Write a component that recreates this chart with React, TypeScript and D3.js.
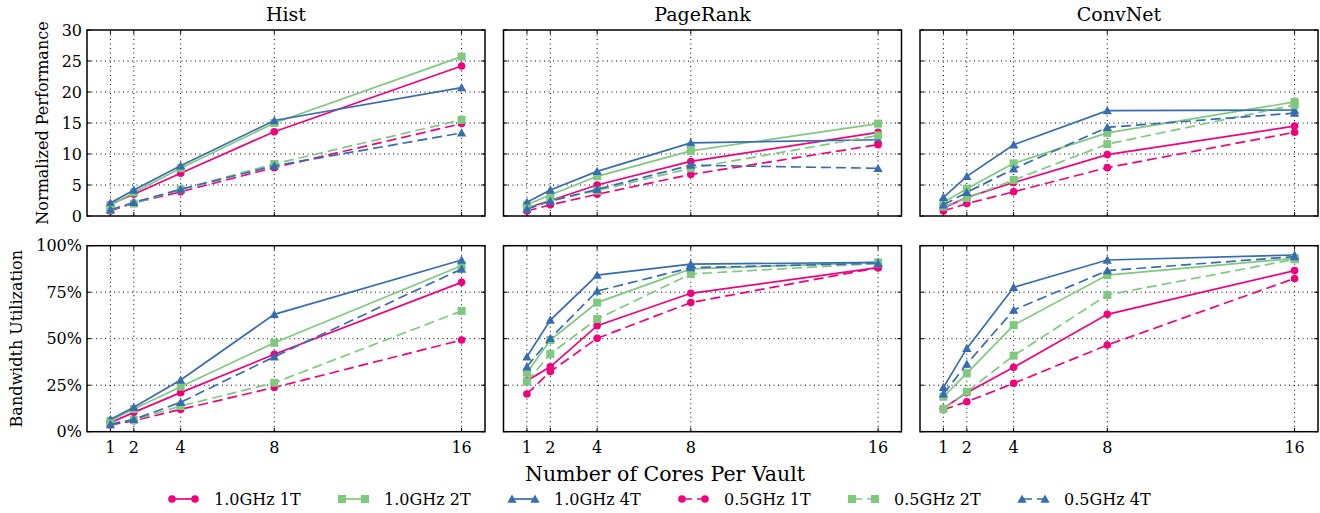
import React from "react";
import * as d3 from "d3";

const cores = [1, 2, 4, 8, 16];
const workloads = ["Hist", "PageRank", "ConvNet"];
const seriesNames = ["1.0GHz 1T", "1.0GHz 2T", "1.0GHz 4T", "0.5GHz 1T", "0.5GHz 2T", "0.5GHz 4T"];
const seriesColors = ["#f0027f", "#7fc97f", "#386cb0", "#f0027f", "#7fc97f", "#386cb0"];
const seriesMarkers = ["circle", "square", "triangle", "circle", "square", "triangle"];
const seriesDashed = [false, false, false, true, true, true];

const perfTicks = [0, 5, 10, 15, 20, 25, 30];
const bwTicks = [0, 25, 50, 75, 100];

// Normalized performance, series order as seriesNames
const histPerf = [
  [1.9, 3.5, 6.9, 13.6, 24.2],
  [1.7, 3.8, 7.7, 15.0, 25.7],
  [2.1, 4.2, 8.1, 15.4, 20.7],
  [0.8, 2.1, 3.9, 7.8, 14.9],
  [1.0, 2.0, 4.3, 8.4, 15.5],
  [1.0, 2.2, 4.3, 8.1, 13.4],
];
const pagerankPerf = [
  [1.3, 2.5, 5.0, 8.8, 13.5],
  [1.8, 3.4, 6.4, 10.5, 14.9],
  [2.2, 4.2, 7.2, 11.8, 12.3],
  [0.8, 1.8, 3.5, 6.7, 11.5],
  [1.2, 2.5, 4.1, 7.7, 13.0],
  [1.1, 2.4, 4.3, 8.2, 7.7],
];
const convnetPerf = [
  [1.3, 3.0, 5.4, 9.9, 14.5],
  [2.2, 4.4, 8.5, 13.4, 18.4],
  [3.0, 6.4, 11.5, 17.0, 17.1],
  [0.8, 2.0, 3.9, 7.8, 13.5],
  [1.5, 2.9, 5.8, 11.6, 17.9],
  [1.8, 3.8, 7.6, 14.3, 16.6],
];

// Bandwidth utilization (%)
const histBw = [
  [4.8, 10.4, 21.0, 41.6, 80.3],
  [5.9, 12.2, 24.2, 47.8, 89.2],
  [6.6, 13.1, 27.8, 63.1, 92.3],
  [3.6, 5.9, 12.0, 23.8, 49.3],
  [4.5, 6.3, 13.8, 26.3, 64.9],
  [3.9, 6.6, 15.8, 40.3, 87.5],
];
const pagerankBw = [
  [27.4, 34.9, 57.0, 74.4, 88.2],
  [31.7, 49.3, 69.4, 87.5, 91.0],
  [40.3, 60.0, 84.2, 90.1, 91.0],
  [20.3, 32.3, 50.2, 69.4, 88.2],
  [26.9, 41.8, 60.6, 84.8, 90.5],
  [34.9, 50.2, 75.6, 88.2, 90.5],
];
const convnetBw = [
  [12.6, 21.0, 34.6, 63.1, 86.6],
  [18.8, 31.4, 57.3, 84.2, 93.2],
  [23.8, 44.8, 77.6, 92.3, 95.0],
  [11.8, 16.1, 26.0, 46.6, 82.4],
  [12.2, 21.5, 40.9, 73.5, 92.7],
  [20.3, 36.4, 65.4, 86.6, 94.1],
];

const perfData = [histPerf, pagerankPerf, convnetPerf];
const bwData = [histBw, pagerankBw, convnetBw];

const FONT = "'DejaVu Serif', 'Liberation Serif', serif";
const W = 1320;
const H = 513;
const panelLefts = [87, 503.5, 920];
const panelW = 398;
const rowTops = [30, 245.7];
const panelH = 186;

function Marker({ type, x, y, color }: { type: string; x: number; y: number; color: string }) {
  if (type === "circle") return <circle cx={x} cy={y} r={3.8} fill={color} />;
  if (type === "square") return <rect x={x - 4} y={y - 4} width={8} height={8} fill={color} />;
  const s = 4.6;
  return <path d={`M${x},${y - s}L${x + s},${y + s * 0.8}L${x - s},${y + s * 0.8}Z`} fill={color} />;
}

function Panel({ col, row }: { col: number; row: number }) {
  const left = panelLefts[col];
  const top = rowTops[row];
  const x = d3.scaleLinear().domain([0, 17]).range([left, left + panelW]);
  const y = d3
    .scaleLinear()
    .domain(row === 0 ? [0, 30] : [0, 100])
    .range([top + panelH, top]);
  const ticks = row === 0 ? perfTicks : bwTicks;
  const data = row === 0 ? perfData[col] : bwData[col];
  const line = d3
    .line<number>()
    .x((_, i) => x(cores[i]))
    .y((d) => y(d));
  return (
    <g>
      {ticks.slice(1, -1).map((t) => (
        <line key={"gy" + t} x1={left} x2={left + panelW} y1={y(t)} y2={y(t)} stroke="#000" strokeWidth={1} strokeDasharray="1,3.5" />
      ))}
      {cores.map((c) => (
        <line key={"gx" + c} x1={x(c)} x2={x(c)} y1={top} y2={top + panelH} stroke="#000" strokeWidth={1} strokeDasharray="1,3.5" />
      ))}
      {ticks.map((t) => (
        <g key={"ty" + t}>
          <line x1={left} x2={left + 4} y1={y(t)} y2={y(t)} stroke="#000" />
          <line x1={left + panelW - 4} x2={left + panelW} y1={y(t)} y2={y(t)} stroke="#000" />
          {col === 0 && (
            <text x={left - 5} y={y(t)} dy="0.36em" textAnchor="end" style={{ fontFamily: FONT }} fontSize={16}>
              {row === 0 ? String(t) : t + "%"}
            </text>
          )}
        </g>
      ))}
      {cores.map((c) => (
        <g key={"tx" + c}>
          <line x1={x(c)} x2={x(c)} y1={top + panelH} y2={top + panelH - 4} stroke="#000" />
          <line x1={x(c)} x2={x(c)} y1={top} y2={top + 4} stroke="#000" />
          {row === 1 && (
            <text x={x(c)} y={top + panelH + 21} textAnchor="middle" style={{ fontFamily: FONT }} fontSize={16}>
              {c}
            </text>
          )}
        </g>
      ))}
      {data.map((vals, si) => (
        <g key={"s" + si}>
          <path
            d={line(vals) || ""}
            fill="none"
            stroke={seriesColors[si]}
            strokeWidth={1.7}
            strokeDasharray={seriesDashed[si] ? "10,5" : undefined}
          />
          {vals.map((v, i) => (
            <Marker key={i} type={seriesMarkers[si]} x={x(cores[i])} y={y(v)} color={seriesColors[si]} />
          ))}
        </g>
      ))}
      <rect x={left} y={top} width={panelW} height={panelH} fill="none" stroke="#000" strokeWidth={1.5} />
      {row === 0 && (
        <text x={left + panelW / 2} y={21} textAnchor="middle" style={{ fontFamily: FONT }} fontSize={19}>
          {workloads[col]}
        </text>
      )}
    </g>
  );
}

export default function App() {
  const legendX = [172, 342, 512, 682, 852, 1022];
  const legendY = 499;
  return (
    <svg width={W} height={H} style={{ position: "absolute", left: 0, top: 0, background: "#fff" }}>
      <rect x={0} y={0} width={W} height={H} fill="#fff" />
      {[0, 1].map((row) => [0, 1, 2].map((col) => <Panel key={row + "-" + col} row={row} col={col} />))}
      <text transform={`translate(47.5,${rowTops[0] + panelH / 2}) rotate(-90)`} textAnchor="middle" style={{ fontFamily: FONT }} fontSize={16}>
        Normalized Performance
      </text>
      <text transform={`translate(22,${rowTops[1] + panelH / 2}) rotate(-90)`} textAnchor="middle" style={{ fontFamily: FONT }} fontSize={16}>
        Bandwidth Utilization
      </text>
      <text x={665} y={481} textAnchor="middle" style={{ fontFamily: FONT }} fontSize={20.5}>
        Number of Cores Per Vault
      </text>
      {seriesNames.map((name, i) => {
        const lx = legendX[i];
        return (
          <g key={name}>
            <line x1={lx} x2={lx + 23} y1={legendY} y2={legendY} stroke={seriesColors[i]} strokeWidth={1.7} strokeDasharray={seriesDashed[i] ? "10,5" : undefined} />
            <Marker type={seriesMarkers[i]} x={lx} y={legendY} color={seriesColors[i]} />
            <Marker type={seriesMarkers[i]} x={lx + 23} y={legendY} color={seriesColors[i]} />
            <text x={lx + 42} y={legendY} dy="0.36em" style={{ fontFamily: FONT }} fontSize={16}>
              {name}
            </text>
          </g>
        );
      })}
    </svg>
  );
}
